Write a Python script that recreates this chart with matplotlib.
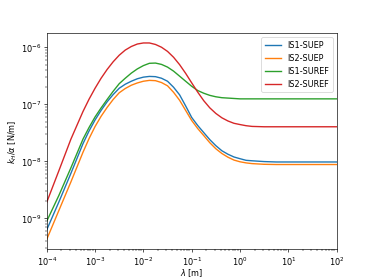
import numpy as np
import matplotlib
matplotlib.use("Agg")
import matplotlib.pyplot as plt

# log10 of lambda [m]
log_lam = [-4, -3.75, -3.5, -3.25, -3.125, -3, -2.875, -2.75, -2.625, -2.5,
           -2.375, -2.25, -2.125, -2, -1.875, -1.75, -1.625, -1.5, -1.375,
           -1.25, -1.125, -1, -0.875, -0.75, -0.625, -0.5, -0.375, -0.25,
           -0.125, 0, 0.125, 0.25, 0.5, 0.75, 1, 1.25, 1.5, 1.75, 2]

is1_suep = [6.25e-10, 1.92e-9, 6.14e-9, 2.04e-8, 3.40e-8, 5.32e-8, 7.84e-8,
            1.11e-7, 1.49e-7, 1.92e-7, 2.26e-7, 2.55e-7, 2.82e-7, 3.01e-7,
            3.10e-7, 3.07e-7, 2.88e-7, 2.55e-7, 2.00e-7, 1.47e-7, 9.40e-8,
            5.89e-8, 4.25e-8, 3.19e-8, 2.40e-8, 1.88e-8, 1.53e-8, 1.33e-8,
            1.19e-8, 1.11e-8, 1.04e-8, 1.02e-8, 9.88e-9, 9.72e-9, 9.72e-9,
            9.72e-9, 9.72e-9, 9.72e-9, 9.72e-9]
is2_suep = [4.25e-10, 1.36e-9, 4.34e-9, 1.44e-8, 2.50e-8, 4.08e-8, 6.18e-8,
            8.85e-8, 1.22e-7, 1.60e-7, 1.90e-7, 2.17e-7, 2.38e-7, 2.55e-7,
            2.64e-7, 2.61e-7, 2.42e-7, 2.12e-7, 1.63e-7, 1.18e-7, 7.84e-8,
            5.21e-8, 3.76e-8, 2.83e-8, 2.12e-8, 1.66e-8, 1.37e-8, 1.18e-8,
            1.05e-8, 9.80e-9, 9.37e-9, 9.10e-9, 8.85e-9, 8.77e-9, 8.77e-9,
            8.77e-9, 8.77e-9, 8.77e-9, 8.77e-9]
is1_suref = [8.85e-10, 2.50e-9, 7.67e-9, 2.45e-8, 3.92e-8, 6.01e-8, 8.67e-8,
             1.22e-7, 1.70e-7, 2.31e-7, 2.88e-7, 3.54e-7, 4.20e-7, 4.80e-7,
             5.27e-7, 5.32e-7, 5.04e-7, 4.52e-7, 3.84e-7, 3.13e-7, 2.55e-7,
             2.08e-7, 1.75e-7, 1.57e-7, 1.44e-7, 1.36e-7, 1.31e-7, 1.29e-7,
             1.27e-7, 1.25e-7, 1.25e-7, 1.25e-7, 1.25e-7, 1.25e-7, 1.25e-7,
             1.25e-7, 1.25e-7, 1.25e-7, 1.25e-7]
is2_suref = [1.91e-9, 6.79e-9, 2.45e-8, 7.49e-8, 1.23e-7, 1.92e-7, 2.88e-7,
             4.11e-7, 5.61e-7, 7.31e-7, 9.00e-7, 1.04e-6, 1.15e-6, 1.20e-6,
             1.20e-6, 1.13e-6, 1.01e-6, 8.53e-7, 6.73e-7, 4.99e-7, 3.51e-7,
             2.39e-7, 1.64e-7, 1.16e-7, 8.69e-8, 6.93e-8, 5.81e-8, 5.11e-8,
             4.65e-8, 4.42e-8, 4.22e-8, 4.10e-8, 4.04e-8, 4.04e-8, 4.04e-8,
             4.04e-8, 4.04e-8, 4.04e-8, 4.04e-8]

lam = 10.0 ** np.array(log_lam)

fig, ax = plt.subplots(figsize=(6.4, 4.8), dpi=58.44)
ax.loglog(lam, is1_suep, lw=1.7, label="IS1-SUEP")
ax.loglog(lam, is2_suep, lw=1.7, label="IS2-SUEP")
ax.loglog(lam, is1_suref, lw=1.7, label="IS1-SUREF")
ax.loglog(lam, is2_suref, lw=1.7, label="IS2-SUREF")
ax.set_xlim(1e-4, 1e2)
ax.set_xlabel(r"$\lambda$ [m]", labelpad=0)
ax.set_ylabel(r"$k_H/\alpha$ [N/m]", labelpad=2)
ax.legend(loc="upper right")

fig.savefig("out.png")
